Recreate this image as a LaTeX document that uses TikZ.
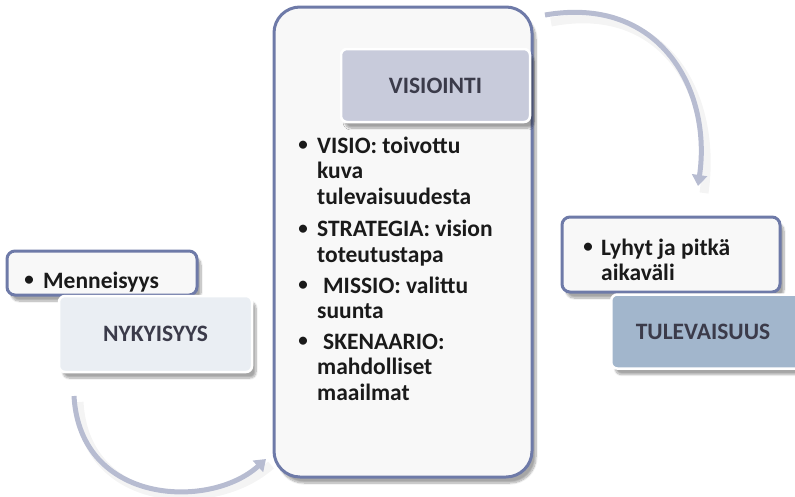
\documentclass[tikz,border=0pt]{standalone}
\usepackage{fontspec}
\setmainfont{Carlito}
\usetikzlibrary{shadows.blur,arrows.meta}
\definecolor{frame}{HTML}{6E7AA8}
\definecolor{paper}{HTML}{F8F8F8}
\definecolor{visfill}{HTML}{C8CBDB}
\definecolor{nowfill}{HTML}{EAEEF3}
\definecolor{futfill}{HTML}{A2B6CC}
\definecolor{labeltxt}{HTML}{3B3B4A}
\definecolor{bodytxt}{HTML}{1A1A1A}
\definecolor{arc}{HTML}{B7BCD1}
% top-aligned block of lines, so that the base anchor sits on the first line
\newcommand{\lines}[1]{\begin{tabular}[t]{@{}l@{}}#1\end{tabular}}
\tikzset{
  soft/.style={blur shadow={shadow xshift=4pt,shadow yshift=-6pt,shadow blur steps=10,shadow opacity=35}},
  panel/.style={draw=frame,line width=3pt,fill=paper,soft,inner sep=0pt},
  tag/.style={draw=white,line width=2.5pt,rounded corners=6pt,soft,inner sep=0pt,
    font=\fontsize{23.5}{26}\selectfont\bfseries,text=labeltxt},
  body/.style={font=\fontsize{23.5}{25.5}\selectfont\bfseries,text=bodytxt,inner sep=0pt,anchor=base west},
  dot/.style={font=\fontsize{19}{20}\selectfont\bfseries,text=bodytxt,inner sep=0pt,anchor=base,yshift=2.5pt},
  flow/.style={draw=arc,line width=5pt,-{Triangle[length=11pt,width=15pt]}},
  flowshade/.style={draw=black!35,line width=9pt,opacity=0.12},
}
\begin{document}
\begin{tikzpicture}[x=1pt,y=-1pt]
\useasboundingbox (0,0) rectangle (795,496);

% curved connectors
\coordinate (c1s) at (74,396);
\coordinate (c1e) at (266,459);
\coordinate (c2s) at (545,15);
\coordinate (c2e) at (698,186);
\draw[flowshade] ([xshift=5,yshift=-6]c1s) .. controls (85,510) and (215,515) .. ([xshift=5,yshift=-6]c1e);
\draw[flowshade] ([xshift=6,yshift=-7]c2s) .. controls (665,0) and (718,95) .. ([xshift=6,yshift=-7]c2e);
\draw[flow] (c1s) .. controls (80,505) and (210,510) .. (c1e);
\draw[flow] (c2s) .. controls (660,-5) and (712,90) .. (c2e);

% central panel
\node[panel,rounded corners=26pt,minimum width=258pt,minimum height=470pt] (mid) at (403,242) {};
\node[tag,fill=visfill,minimum width=189pt,minimum height=73pt] (vis) at (435.5,85.5) {VISIOINTI};

\node[dot] (b1) at (303,153) {•};
\node[body] (t1) at (317,153) {\lines{VISIO: toivottu\\kuva\\tulevaisuudesta}};
\node[dot] (b2) at (303,236.5) {•};
\node[body] (t2) at (317,236.5) {\lines{STRATEGIA: vision\\toteutustapa}};
\node[dot] (b3) at (303,293) {•};
\node[body] (t3) at (317,293) {\lines{\hspace{6pt}MISSIO: valittu\\suunta}};
\node[dot] (b4) at (303,349) {•};
\node[body] (t4) at (317,349) {\lines{\hspace{6pt}SKENAARIO:\\mahdolliset\\maailmat}};

% present
\node[panel,rounded corners=8pt,minimum width=190pt,minimum height=44pt] (past) at (102,273) {};
\node[dot] (bp) at (29,288) {•};
\node[body] (tp) at (43,288) {Menneisyys};
\node[tag,fill=nowfill,minimum width=193pt,minimum height=76pt] (now) at (155.5,334) {NYKYISYYS};

% future
\node[panel,rounded corners=8pt,minimum width=218pt,minimum height=75pt] (fnote) at (671,254.5) {};
\node[dot] (bf) at (588,255) {•};
\node[body] (tf) at (601,255) {\lines{Lyhyt ja pitkä\\aikaväli}};
\node[tag,fill=futfill,minimum width=192pt,minimum height=74pt,anchor=west] (fut) at (610,331.5) {};
\node[font=\fontsize{23.5}{26}\selectfont\bfseries,text=labeltxt] (futl) at (703,331.5) {TULEVAISUUS};
\end{tikzpicture}
\end{document}
